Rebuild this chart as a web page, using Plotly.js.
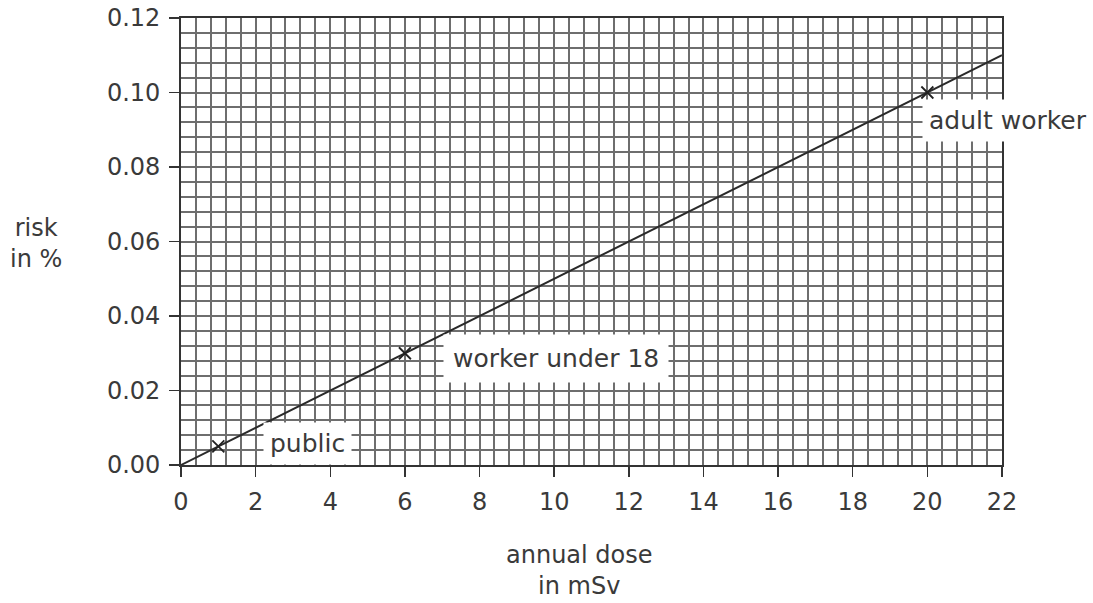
<!DOCTYPE html>
<html><head><meta charset="utf-8">
<script src="https://cdn.plot.ly/plotly-3.0.1.min.js"></script>
<style>html,body{margin:0;padding:0;background:#fff}#chart{width:1093px;height:603px}</style>
</head><body><div id="chart"></div>
<script>
const lineDose = [0, 22];
const lineRisk = [0, 0.11];
const pointLabels = ["public", "worker under 18", "adult worker"];
const pointDose = [1, 6, 20];
const pointRisk = [0.005, 0.03, 0.10];
const xTicks = [0,2,4,6,8,10,12,14,16,18,20,22];
const yTicks = [0,0.02,0.04,0.06,0.08,0.10,0.12];

const fontFam = '"DejaVu Sans", sans-serif';
const txt = '#3a3a3a';
const gridC = '#6e6e6e';
const traces = [
  {x: lineDose, y: lineRisk, mode: 'lines', line: {color: '#2a2a2a', width: 2}, hoverinfo: 'skip', cliponaxis: false},
  {x: pointDose, y: pointRisk, mode: 'markers', marker: {symbol: 'x-thin', size: 12, line: {color: '#222', width: 1.8}}, cliponaxis: false}
];
// label offsets in pixels from each marked point: [ax, ay, borderpad]
const annOffsets = [[45, -3, 6], [38, 5, 9], [-5, 28, 6]];
const annotations = pointLabels.map((t, i) => ({
  x: pointDose[i], y: pointRisk[i], xref: 'x', yref: 'y', text: t, showarrow: true,
  arrowcolor: 'rgba(0,0,0,0)', arrowwidth: 0.1, ax: annOffsets[i][0], ay: annOffsets[i][1],
  xanchor: 'left', yanchor: 'middle',
  font: {family: fontFam, size: 25, color: txt}, bgcolor: '#fff', borderpad: annOffsets[i][2]
}));
annotations.push({xref: 'paper', yref: 'paper', x: 0, y: 0.495, text: 'risk<br>in %', showarrow: false,
  xanchor: 'center', yanchor: 'middle', xshift: -145,
  font: {family: fontFam, size: 24, color: txt}, align: 'center'});
annotations.push({xref: 'paper', yref: 'paper', x: 0.485, y: 0, yshift: -74, text: 'annual dose<br>in mSv', showarrow: false,
  font: {family: fontFam, size: 24, color: txt}, align: 'center', xanchor: 'center', yanchor: 'top'});

const axisCommon = {
  showgrid: true, gridcolor: gridC, gridwidth: 2,
  ticks: 'outside', ticklen: 10, tickwidth: 1.5, tickcolor: '#333',
  showline: true, linecolor: '#333', linewidth: 1.8, mirror: true,
  zeroline: false, tickfont: {family: fontFam, size: 24, color: txt}, ticklabelstandoff: 4
};
const layout = {
  width: 1093, height: 603, showlegend: false,
  margin: {l: 181, r: 91, t: 18, b: 138},
  paper_bgcolor: '#fff', plot_bgcolor: '#fff',
  xaxis: Object.assign({}, axisCommon, {range: [0, 22], tickvals: xTicks, ticktext: xTicks.map(String),
    minor: {dtick: 0.4, tick0: 0, showgrid: true, gridcolor: gridC, gridwidth: 2}}),
  yaxis: Object.assign({}, axisCommon, {range: [0, 0.12], tickvals: yTicks, ticktext: yTicks.map(v => v.toFixed(2)),
    minor: {dtick: 0.004, tick0: 0, showgrid: true, gridcolor: gridC, gridwidth: 2}}),
  annotations: annotations
};
Plotly.newPlot('chart', traces, layout, {staticPlot: true});
</script></body></html>
